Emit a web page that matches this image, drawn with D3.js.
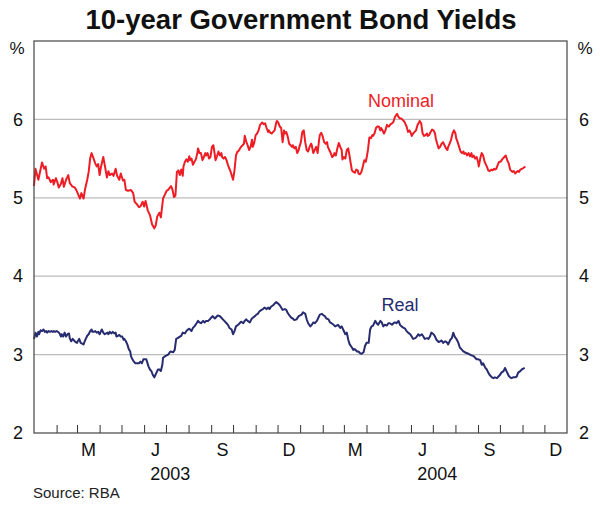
<!DOCTYPE html>
<html>
<head>
<meta charset="utf-8">
<script src="https://cdn.jsdelivr.net/npm/d3@7"></script>
<style>
  html, body { margin: 0; padding: 0; background: #fff; }
  svg text { font-family: "Liberation Sans", Arial, sans-serif; }
</style>
</head>
<body>
<div id="chart"></div>
<script>
// 10-year bond yields. Days counted from 1 Jan 2003.
const nominalDays = [0,2,6,11,14,16,18,20,23,26,27,30,32,34,37,39,41,44,47,49,52,56,59,63,65,68,70,73,75,77,79,81,84,86,88,90,92,95,97,100,102,104,107,109,112,114,117,119,122,124,126,129,133,136,138,141,144,146,149,151,153,156,159,162,165,167,169,172,174,177,179,182,184,188,190,192,194,196,198,200,202,204,205,207,209,211,213,214,216,218,220,222,224,225,227,229,231,233,235,236,238,240,242,244,246,247,249,251,253,255,257,258,260,262,264,266,268,269,271,273,275,277,279,280,282,284,286,288,289,291,293,295,297,299,300,302,304,306,308,310,311,313,315,317,319,321,322,324,326,328,330,332,333,335,337,339,341,343,344,346,348,350,352,354,355,357,359,361,363,364,366,368,370,372,374,376,378,380,381,383,385,387,389,391,392,394,396,398,400,402,403,405,407,409,411,412,414,416,418,420,422,423,425,427,429,431,433,434,436,438,440,442,444,445,447,449,451,453,455,456,458,460,462,464,465,467,469,471,473,475,476,478,480,482,484,486,487,489,491,493,495,497,498,500,502,504,506,508,509,511,513,515,517,518,520,522,524,526,528,529,531,533,535,537,539,540,542,544,546,548,550,551,553,555,557,559,561,563,565,567,568,570,572,574,576,578,579,581,583,585,587,589,590,592,594,596,598,600,601,603,605,607,609,610,612,614,616,618,620,621,623,625,627,629,631,632,634,636,638,640,642,643,645,647,649,651,653,654,656,658,660,662,663,665,667,669,671,674];
const nominalYield = [5.15,5.37,5.23,5.45,5.37,5.40,5.25,5.26,5.20,5.23,5.17,5.25,5.20,5.13,5.18,5.25,5.14,5.23,5.29,5.19,5.15,5.13,5.08,4.99,5.06,4.99,5.11,5.23,5.33,5.50,5.57,5.52,5.44,5.40,5.43,5.29,5.40,5.52,5.42,5.26,5.34,5.29,5.31,5.28,5.37,5.28,5.23,5.31,5.22,5.23,5.10,5.09,5.10,5.06,4.95,4.92,4.88,4.89,4.95,4.89,4.96,4.84,4.78,4.66,4.61,4.65,4.76,4.81,4.75,4.99,5.03,5.09,5.10,5.15,5.10,5.01,5.03,5.33,5.35,5.29,5.36,5.28,5.40,5.46,5.49,5.46,5.53,5.48,5.50,5.42,5.46,5.49,5.57,5.63,5.57,5.57,5.48,5.52,5.57,5.54,5.57,5.50,5.52,5.65,5.67,5.61,5.48,5.53,5.59,5.54,5.57,5.52,5.50,5.52,5.48,5.42,5.37,5.35,5.29,5.23,5.35,5.54,5.59,5.59,5.62,5.65,5.67,5.69,5.79,5.72,5.67,5.61,5.65,5.74,5.65,5.70,5.80,5.82,5.86,5.93,5.94,5.96,5.94,5.95,5.89,5.84,5.86,5.83,5.82,5.84,5.86,5.95,5.98,5.96,5.91,5.89,5.71,5.86,5.82,5.84,5.78,5.69,5.67,5.65,5.67,5.63,5.65,5.57,5.61,5.65,5.71,5.84,5.86,5.71,5.61,5.59,5.65,5.69,5.67,5.57,5.61,5.65,5.57,5.74,5.80,5.83,5.78,5.71,5.69,5.71,5.65,5.61,5.57,5.52,5.54,5.57,5.54,5.63,5.70,5.65,5.61,5.49,5.52,5.50,5.61,5.63,5.52,5.46,5.35,5.33,5.32,5.36,5.35,5.31,5.30,5.33,5.40,5.48,5.46,5.50,5.61,5.77,5.76,5.80,5.79,5.82,5.89,5.91,5.91,5.86,5.89,5.86,5.82,5.86,5.93,5.91,5.91,5.94,5.95,5.97,6.03,6.06,6.07,6.03,6.01,6.01,5.99,5.97,5.95,5.91,5.84,5.86,5.82,5.79,5.82,5.84,5.86,5.93,5.96,5.98,5.95,5.82,5.79,5.80,5.82,5.79,5.80,5.84,5.87,5.86,5.82,5.76,5.69,5.63,5.65,5.69,5.71,5.67,5.63,5.61,5.65,5.69,5.74,5.82,5.86,5.82,5.76,5.71,5.65,5.59,5.57,5.59,5.56,5.57,5.54,5.57,5.53,5.57,5.52,5.54,5.50,5.52,5.46,5.40,5.50,5.57,5.54,5.46,5.42,5.40,5.35,5.34,5.36,5.35,5.37,5.36,5.37,5.42,5.46,5.46,5.49,5.50,5.52,5.54,5.48,5.44,5.36,5.35,5.33,5.34,5.31,5.33,5.34,5.33,5.36,5.37,5.38,5.40];

const realDays = [0,2,4,6,7,9,11,13,15,17,18,20,22,24,26,27,29,31,33,35,37,38,40,42,44,46,48,49,51,53,55,57,59,60,62,64,66,68,70,71,73,75,77,79,80,82,84,86,88,90,91,93,95,97,99,101,102,104,106,108,110,112,113,115,117,119,121,123,124,126,128,130,132,133,135,137,139,141,143,144,146,148,150,152,154,155,157,159,161,163,165,166,168,170,172,174,176,177,180,184,187,191,193,195,197,200,202,204,207,209,211,213,216,218,220,223,225,227,229,232,234,236,239,241,243,245,248,250,252,255,257,259,261,264,266,268,271,273,275,277,280,282,284,287,289,291,293,296,298,300,303,305,307,309,312,314,316,319,321,323,325,328,330,332,335,337,339,341,344,346,348,351,353,355,357,360,363,365,367,369,372,374,376,379,381,383,385,388,390,392,395,397,399,401,404,406,408,411,413,415,417,420,422,424,427,429,431,433,436,438,440,443,445,447,449,452,454,456,459,461,463,465,468,470,472,475,477,479,481,484,486,488,491,493,495,497,500,502,504,507,509,511,513,516,518,520,523,525,527,529,532,534,536,539,541,543,545,548,550,552,555,557,559,561,564,566,568,571,573,575,577,580,582,584,587,589,591,593,596,598,600,603,605,607,609,612,614,616,619,621,623,625,628,630,632,635,637,639,641,644,646,648,651,653,655,657,660,662,664,667,669,671,673];
const realYield = [3.20,3.28,3.23,3.29,3.26,3.31,3.30,3.32,3.29,3.30,3.28,3.30,3.29,3.30,3.29,3.30,3.29,3.30,3.29,3.27,3.23,3.26,3.23,3.28,3.23,3.26,3.27,3.21,3.17,3.20,3.18,3.16,3.15,3.17,3.20,3.15,3.14,3.13,3.18,3.20,3.24,3.26,3.30,3.32,3.29,3.29,3.30,3.28,3.29,3.26,3.28,3.32,3.28,3.26,3.27,3.28,3.26,3.29,3.27,3.29,3.27,3.28,3.23,3.24,3.25,3.23,3.23,3.19,3.20,3.17,3.13,3.07,3.04,2.98,2.94,2.91,2.89,2.89,2.89,2.89,2.91,2.89,2.94,2.94,2.94,2.91,2.85,2.81,2.79,2.74,2.71,2.73,2.77,2.81,2.81,2.79,2.87,2.96,2.98,3.00,3.04,3.03,3.06,3.20,3.21,3.23,3.24,3.28,3.27,3.30,3.32,3.33,3.30,3.34,3.36,3.40,3.43,3.41,3.40,3.43,3.41,3.43,3.43,3.45,3.47,3.49,3.46,3.48,3.50,3.49,3.47,3.45,3.43,3.40,3.38,3.34,3.32,3.26,3.30,3.36,3.38,3.40,3.42,3.40,3.43,3.45,3.43,3.41,3.45,3.47,3.49,3.51,3.52,3.55,3.57,3.58,3.60,3.58,3.60,3.58,3.61,3.63,3.65,3.67,3.65,3.63,3.60,3.57,3.58,3.57,3.53,3.49,3.47,3.46,3.44,3.45,3.49,3.50,3.51,3.54,3.52,3.45,3.40,3.36,3.38,3.41,3.40,3.43,3.47,3.51,3.52,3.50,3.49,3.46,3.45,3.41,3.40,3.38,3.36,3.37,3.38,3.34,3.36,3.32,3.26,3.28,3.19,3.13,3.09,3.06,3.07,3.04,3.04,3.02,3.01,3.03,3.11,3.15,3.15,3.32,3.36,3.37,3.43,3.40,3.38,3.43,3.41,3.36,3.38,3.37,3.40,3.40,3.38,3.40,3.41,3.40,3.43,3.38,3.36,3.34,3.33,3.30,3.28,3.26,3.23,3.20,3.21,3.23,3.26,3.24,3.26,3.23,3.20,3.21,3.20,3.23,3.28,3.26,3.23,3.19,3.16,3.17,3.18,3.15,3.17,3.16,3.13,3.19,3.21,3.28,3.23,3.19,3.15,3.09,3.06,3.04,3.03,3.02,3.01,3.00,2.99,2.98,2.96,2.94,2.94,2.93,2.87,2.89,2.83,2.81,2.77,2.74,2.71,2.70,2.71,2.70,2.72,2.74,2.77,2.79,2.83,2.79,2.73,2.71,2.70,2.71,2.71,2.72,2.77,2.79,2.81,2.82,2.83];

const yTicks = [2, 3, 4, 5, 6];
const gridValues = [3, 4, 5, 6];
const monthLabels = ["M", "J", "S", "D", "M", "J", "S", "D"];
const labelMonths = ["2003-03", "2003-06", "2003-09", "2003-12", "2004-03", "2004-06", "2004-09", "2004-12"];
const yearLabels = ["2003", "2004"];

const W = 600, H = 508;
const L = 34, R = 567, T = 41, B = 433;
const RED = "#ee1d25", NAVY = "#272b6f";

const start = new Date(2003, 0, 1);
const toDate = d => d3.timeDay.offset(start, d);
const nominal = nominalDays.map((d, i) => ({ date: toDate(d), v: nominalYield[i] }));
const real = realDays.map((d, i) => ({ date: toDate(d), v: realYield[i] }));

const x = d3.scaleTime().domain([start, new Date(2005, 0, 1)]).range([L, R]);
const y = d3.scaleLinear().domain([2, 7]).range([B, T]);

const svg = d3.select("#chart").append("svg").attr("width", W).attr("height", H);

svg.append("text")
  .attr("x", 301).attr("y", 29)
  .attr("text-anchor", "middle")
  .attr("font-size", 27.5).attr("font-weight", "bold").attr("fill", "#111")
  .text("10-year Government Bond Yields");

// grid
svg.append("g").selectAll("line")
  .data(gridValues)
  .join("line")
    .attr("x1", L).attr("x2", R)
    .attr("y1", d => y(d)).attr("y2", d => y(d))
    .attr("stroke", "#bcbcbc").attr("stroke-width", 1.2);

// month ticks (inside, pointing up)
const tickAxis = d3.axisBottom(x)
  .tickValues(d3.timeMonth.range(new Date(2003, 1, 1), new Date(2005, 0, 1)))
  .tickSize(-8).tickFormat("");
const gt = svg.append("g").attr("transform", `translate(0,${B})`).call(tickAxis);
gt.select(".domain").remove();
gt.selectAll("line").attr("stroke", "#333");

// month letters centred in their month
const mid = s => { const d = d3.timeParse("%Y-%m")(s); return new Date(d.getFullYear(), d.getMonth(), 16); };
const monthAxis = d3.axisBottom(x)
  .tickValues(labelMonths.map(mid))
  .tickSize(0).tickPadding(10)
  .tickFormat((d, i) => monthLabels[i]);
const gm = svg.append("g").attr("transform", `translate(0,${B})`).call(monthAxis);
gm.select(".domain").remove();
gm.selectAll("text").attr("font-size", 18).attr("fill", "#111").attr("font-family", null);

svg.append("g").selectAll("text")
  .data(yearLabels)
  .join("text")
    .attr("x", d => x(new Date(+d, 6, 7)))
    .attr("y", 480)
    .attr("text-anchor", "middle")
    .attr("font-size", 18).attr("fill", "#111")
    .text(d => d);

// y labels both sides
const leftAxis = d3.axisLeft(y).tickValues(yTicks).tickSize(0).tickPadding(11).tickFormat(d3.format("d"));
const rightAxis = d3.axisRight(y).tickValues(yTicks).tickSize(0).tickPadding(12).tickFormat(d3.format("d"));
[[leftAxis, L], [rightAxis, R]].forEach(([ax, px]) => {
  const g = svg.append("g").attr("transform", `translate(${px},0)`).call(ax);
  g.select(".domain").remove();
  g.selectAll("text").attr("font-size", 18).attr("fill", "#111").attr("font-family", null);
});

svg.append("text").attr("x", 17).attr("y", 54).attr("text-anchor", "middle")
  .attr("font-size", 17).attr("fill", "#111").text("%");
svg.append("text").attr("x", 585).attr("y", 54).attr("text-anchor", "middle")
  .attr("font-size", 17).attr("fill", "#111").text("%");

// series
const line = d3.line().x(d => x(d.date)).y(d => y(d.v));
svg.append("path").datum(nominal)
  .attr("d", line).attr("fill", "none")
  .attr("stroke", RED).attr("stroke-width", 2).attr("stroke-linejoin", "round");
svg.append("path").datum(real)
  .attr("d", line).attr("fill", "none")
  .attr("stroke", NAVY).attr("stroke-width", 2).attr("stroke-linejoin", "round");

svg.append("text").attr("x", 401).attr("y", 107).attr("text-anchor", "middle")
  .attr("font-size", 18).attr("fill", RED).text("Nominal");
svg.append("text").attr("x", 400).attr("y", 311).attr("text-anchor", "middle")
  .attr("font-size", 18).attr("fill", NAVY).text("Real");

// frame
svg.append("rect")
  .attr("x", L).attr("y", T).attr("width", R - L).attr("height", B - T)
  .attr("fill", "none").attr("stroke", "#444").attr("stroke-width", 1.2);

svg.append("text").attr("x", 33).attr("y", 498)
  .attr("font-size", 15).attr("fill", "#222").text("Source: RBA");
</script>
</body>
</html>
